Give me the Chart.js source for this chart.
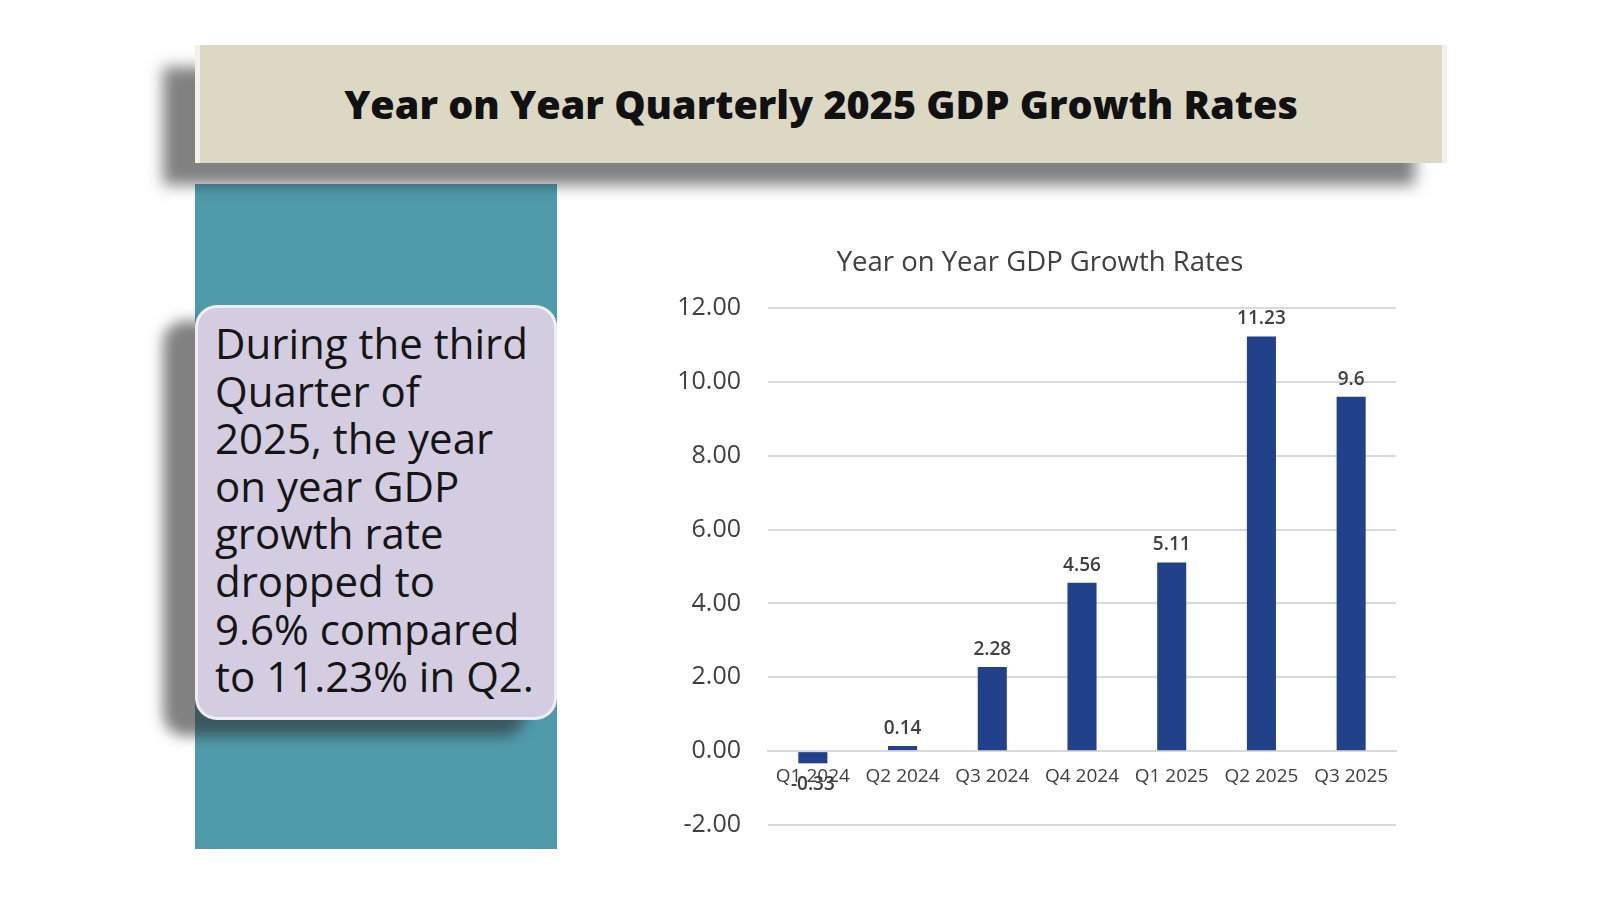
<!DOCTYPE html>
<html>
<head>
<meta charset="utf-8">
<title>Year on Year Quarterly 2025 GDP Growth Rates</title>
<script src="https://cdn.jsdelivr.net/npm/chart.js@4.4.1/dist/chart.umd.min.js"></script>
<style>
  html, body { margin: 0; padding: 0; background: #fff; }
  body { width: 1600px; height: 900px; position: relative; overflow: hidden; font-family: "Open Sans", sans-serif; }
  .banner {
    position: absolute; left: 195px; top: 45px; width: 1252px; height: 118px;
    box-sizing: border-box; background: #dcd8c4;
    border-left: 5px solid #f3f1e8; border-right: 5px solid #f3f1e8;
    box-shadow: -32px 22px 14px rgba(45, 45, 45, 0.6);
    display: flex; align-items: center; justify-content: center;
    font-size: 39.5px; font-weight: 800; color: #111; z-index: 2;
  }
  .teal { position: absolute; left: 195px; top: 184px; width: 362px; height: 665px; background: #4f9bac; z-index: 1; }
  .note {
    position: absolute; left: 195px; top: 305px; width: 362px; height: 415px;
    box-sizing: border-box; background: #d4cde1; border: 3px solid rgba(255,255,255,0.65);
    border-radius: 22px; box-shadow: -32px 16px 14px rgba(45, 45, 45, 0.6);
    padding: 11px 0 0 17px; font-size: 42px; font-weight: 500; line-height: 47.6px; color: #151515; z-index: 3;
  }
  .chart-box { position: absolute; left: 642px; top: 230px; width: 796px; height: 637px; }
</style>
</head>
<body>
<div class="banner">Year on Year Quarterly 2025 GDP Growth Rates</div>
<div class="teal"></div>
<div class="note">During the third<br>Quarter of<br>2025, the year<br>on year GDP<br>growth rate<br>dropped to<br>9.6% compared<br>to 11.23% in Q2.</div>
<div class="chart-box"><canvas id="gdp-chart"></canvas></div>

<script>
// chart values
const quarters = ["Q1 2024", "Q2 2024", "Q3 2024", "Q4 2024", "Q1 2025", "Q2 2025", "Q3 2025"];
const growthRates = [-0.33, 0.14, 2.28, 4.56, 5.11, 11.23, 9.6];
const yMin = -2;
const yMax = 12;
const yStep = 2;

const FONT = "'Open Sans', sans-serif";
const TEXT = "#404040";
const GRID = "#d9d9d9";

/* value labels: above positive bars, below negative ones */
const valueLabels = {
  id: "valueLabels",
  afterDatasetsDraw(chart) {
    const ctx = chart.ctx;
    const meta = chart.getDatasetMeta(0);
    ctx.save();
    ctx.font = "600 19px " + FONT;
    ctx.fillStyle = TEXT;
    ctx.textAlign = "center";
    meta.data.forEach((bar, i) => {
      const v = growthRates[i];
      if (v >= 0) {
        ctx.textBaseline = "alphabetic";
        ctx.fillText(String(v), bar.x, bar.y - 12);
      } else {
        ctx.textBaseline = "top";
        ctx.fillText(String(v), bar.x, bar.y + 12);
      }
    });
    ctx.restore();
  },
};

new Chart(document.getElementById("gdp-chart").getContext("2d"), {
  type: "bar",
  data: {
    labels: quarters,
    datasets: [{
      data: growthRates,
      backgroundColor: "#21418b",
      borderWidth: 0,
      barPercentage: 0.9,
      categoryPercentage: 0.36,
    }],
  },
  options: {
    responsive: true,
    maintainAspectRatio: false,
    animation: false,
    layout: { padding: { left: 0, right: 0, top: 0, bottom: 26 } },
    plugins: {
      legend: { display: false },
      tooltip: { enabled: false },
      title: {
        display: true, text: "Year on Year GDP Growth Rates", color: TEXT,
        font: { family: FONT, size: 27.5, weight: "normal" }, padding: { top: 17, bottom: 28 },
      },
    },
    scales: {
      x: {
        position: { y: 0 },
        grid: { display: false, drawTicks: false },
        border: { display: true, color: GRID, width: 2 },
        ticks: { color: TEXT, font: { family: FONT, size: 19, weight: 500 }, padding: 14, maxRotation: 0 },
      },
      y: {
        min: yMin, max: yMax,
        afterFit: (s) => { s.width = 126; },
        grid: { color: GRID, lineWidth: 2, drawTicks: false },
        border: { display: false },
        ticks: { stepSize: yStep, color: TEXT, font: { family: FONT, size: 25 }, padding: 27, callback: (v) => v.toFixed(2) },
      },
      // empty right gutter so the title centres over the whole chart like the original
      gutter: {
        position: "right",
        afterFit: (s) => { s.width = 42; },
        grid: { display: false, drawTicks: false },
        border: { display: false },
        ticks: { display: false },
      },
    },
  },
  plugins: [valueLabels],
});
</script>
</body>
</html>
